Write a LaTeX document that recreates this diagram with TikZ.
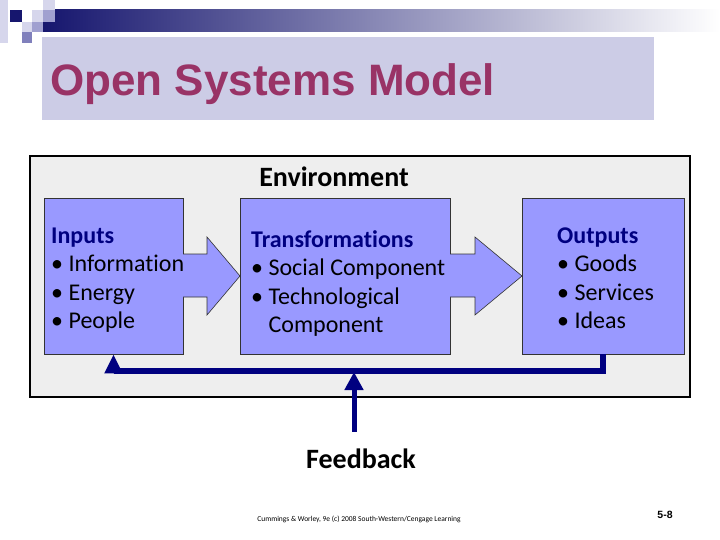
\documentclass[tikz,border=0pt]{standalone}
\usepackage{fontspec}
\setmainfont{Carlito}[Ligatures=CommonOff]
\newfontfamily\arialfont{Liberation Sans}
\usepackage{xcolor}
\usepackage{tikz}
\usetikzlibrary{arrows.meta}
\definecolor{TitleBG}{RGB}{204,204,230}
\definecolor{TitleRed}{RGB}{153,51,102}
\definecolor{EnvGray}{RGB}{238,238,238}
\definecolor{CardBlue}{RGB}{153,153,255}
\definecolor{DarkNavy}{RGB}{0,0,128}
\definecolor{BarNavy}{RGB}{22,22,110}
\definecolor{SqLight}{RGB}{214,214,236}
\definecolor{SqMid}{RGB}{160,160,208}
\definecolor{SqDark}{RGB}{128,128,188}

\begin{document}
\begin{tikzpicture}[x=1pt,y=-1pt,
  card/.style={draw=black!80,line width=0.6pt,fill=CardBlue,minimum height=156pt},
  cardtext/.style={anchor=base west,align=left,inner sep=0pt,font=\fontsize{24}{28.5}\selectfont},
  bigarr/.style={draw=black!80,line width=0.6pt,fill=CardBlue},
  loop/.style={DarkNavy,line width=6pt,-{Triangle[length=19pt,width=17pt]}},
  fbup/.style={DarkNavy,line width=5pt,-{Triangle[length=18pt,width=18pt]}}
]
\fill[white] (0,0) rectangle (720,540);
\useasboundingbox (0,0) rectangle (720,540);
\shade[left color=BarNavy,right color=white] (43,10) rectangle (720,32);
\fill[SqLight] (0,0) rectangle (8,43);
\fill[BarNavy] (10,10) rectangle (22,22);
\fill[SqLight] (32,10) rectangle (43,22);
\fill[SqLight] (43,0) rectangle (55,10);
\fill[SqMid] (43,10) rectangle (55,22);
\fill[SqLight] (22,22) rectangle (32,32);
\fill[SqMid] (32,22) rectangle (43,32);
\fill[SqDark] (22,32) rectangle (32,43);
\node[fill=TitleBG,minimum width=612pt,minimum height=83pt] (hdr) at (348,78.5) {};
\node[anchor=base west,inner sep=0pt,text=TitleRed,font=\arialfont\bfseries\fontsize{44}{48}\selectfont] (ttl) at (50,96) {Open Systems Model};
\node[draw=black,line width=2.2pt,fill=EnvGray,minimum width=660pt,minimum height=241pt] (env) at (360,276.5) {};
\node[font=\fontsize{28}{32}\selectfont\bfseries] (envl) at (334,177) {Environment};
\node[card,minimum width=139pt] (inp) at (113.5,276) {};
\node[card,minimum width=210pt] (trf) at (345,276) {};
\node[card,minimum width=162pt] (outp) at (603,276) {};
\node[cardtext] (inpt) at (51,328.5) {
  {\bfseries\color{DarkNavy}Inputs}\\
  • Information\\• Energy\\• People
};
\node[cardtext] (trft) at (251,332.5) {
  {\bfseries\color{DarkNavy}Transformations}\\
  • Social Component\\• Technological\\\phantom{•\ }Component
};
\node[cardtext] (outpt) at (557,328.5) {
  {\bfseries\color{DarkNavy}Outputs}\\
  • Goods\\• Services\\• Ideas
};
\draw[bigarr] (183,254) -- (207,254) -- (207,237) -- (240,276) -- (207,315) -- (207,297) -- (183,297);
\draw[bigarr] (450,254) -- (475,254) -- (475,237) -- (522,276) -- (475,315) -- (475,297) -- (450,297);
\draw[loop] (outp.south) -- ++(0,17) -| (inp.south);
\coordinate (fbj) at (354,372);
\node[font=\fontsize{28}{32}\selectfont\bfseries] (fb) at (361,459) {Feedback};
\draw[fbup] (fb.north -| fbj) ++(0,-14) -- (fbj);
\node[font=\fontsize{7.5}{9}\selectfont] (src) at (359,519) {Cummings \& Worley, 9e (c) 2008 South-Western/Cengage Learning};
\node[font=\arialfont\bfseries\fontsize{10.5}{12}\selectfont] (pg) at (665,515) {5-8};
\end{tikzpicture}
\end{document}
